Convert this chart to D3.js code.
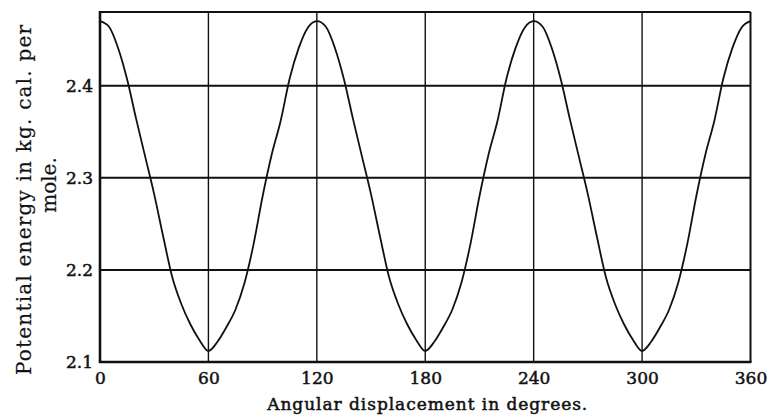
<!DOCTYPE html>
<html>
<head>
<script src="https://d3js.org/d3.v7.min.js"></script>
<title>Potential energy vs angular displacement</title>
<style>
  body { margin: 0; background: #fff; }
</style>
</head>
<body>
<div id="chart"></div>
<script>
// values
var angles = [0, 5, 10, 15, 20, 25, 30, 35, 40, 45, 50, 55, 60, 65, 70, 75, 80, 85, 90, 95, 100, 105, 110, 115, 120,
              125, 130, 135, 140, 145, 150, 155, 160, 165, 170, 175, 180, 185, 190, 195, 200, 205, 210, 215, 220, 225, 230, 235, 240,
              245, 250, 255, 260, 265, 270, 275, 280, 285, 290, 295, 300, 305, 310, 315, 320, 325, 330, 335, 340, 345, 350, 355, 360];
var energy = [2.470, 2.464, 2.441, 2.407, 2.364, 2.323, 2.282, 2.236, 2.192, 2.163, 2.141, 2.124, 2.112,
              2.122, 2.138, 2.157, 2.186, 2.228, 2.280, 2.325, 2.362, 2.408, 2.441, 2.463, 2.470,
              2.464, 2.441, 2.407, 2.364, 2.323, 2.282, 2.236, 2.192, 2.163, 2.141, 2.124, 2.112,
              2.122, 2.138, 2.157, 2.186, 2.228, 2.280, 2.325, 2.362, 2.408, 2.441, 2.463, 2.470,
              2.464, 2.441, 2.407, 2.364, 2.323, 2.282, 2.236, 2.192, 2.163, 2.141, 2.124, 2.112,
              2.122, 2.138, 2.157, 2.186, 2.228, 2.280, 2.325, 2.362, 2.408, 2.441, 2.463, 2.470];
var xTicks = [0, 60, 120, 180, 240, 300, 360];
var yTicks = [2.1, 2.2, 2.3, 2.4];
var yGrid = [2.2, 2.3, 2.4];
var xLabel = "Angular displacement in degrees.";
var yLabel = ["Potential energy in kg. cal. per", "mole."];

(function() {

  var width = 769, height = 418;
  var plotLeft = 100, plotRight = 750.5, plotTop = 12, plotBottom = 362;
  var ink = "#111";
  var serif = "'DejaVu Serif', 'Liberation Serif', serif";

  var svg = d3.select("#chart").append("svg")
      .attr("width", width).attr("height", height);

  var x = d3.scaleLinear().domain([0, 360]).range([plotLeft, plotRight]);
  var y = d3.scaleLinear().domain([2.1, 2.48]).range([plotBottom, plotTop]);

  // grid
  svg.selectAll(".vgrid").data(xTicks.slice(1, -1)).enter().append("line")
      .attr("x1", function(d) { return x(d); }).attr("x2", function(d) { return x(d); })
      .attr("y1", plotTop).attr("y2", plotBottom)
      .attr("stroke", ink).attr("stroke-width", 1.4);

  svg.selectAll(".hgrid").data(yGrid).enter().append("line")
      .attr("x1", plotLeft).attr("x2", plotRight)
      .attr("y1", function(d) { return y(d); }).attr("y2", function(d) { return y(d); })
      .attr("stroke", ink).attr("stroke-width", 2);

  // frame
  svg.append("line").attr("x1", plotLeft).attr("x2", plotRight).attr("y1", plotTop).attr("y2", plotTop)
      .attr("stroke", ink).attr("stroke-width", 2);
  svg.append("line").attr("x1", plotRight).attr("x2", plotRight).attr("y1", plotTop).attr("y2", plotBottom)
      .attr("stroke", ink).attr("stroke-width", 2);
  svg.append("line").attr("x1", plotLeft).attr("x2", plotLeft).attr("y1", plotTop - 1).attr("y2", plotBottom + 1)
      .attr("stroke", ink).attr("stroke-width", 2.6);
  svg.append("line").attr("x1", plotLeft - 1).attr("x2", plotRight + 1).attr("y1", plotBottom).attr("y2", plotBottom)
      .attr("stroke", ink).attr("stroke-width", 2.6);

  // curve
  var pts = angles.map(function(a, i) { return [a, energy[i]]; });
  var line = d3.line()
      .x(function(d) { return x(d[0]); })
      .y(function(d) { return y(d[1]); })
      .curve(d3.curveMonotoneX);

  svg.append("path").datum(pts)
      .attr("d", line)
      .attr("fill", "none").attr("stroke", ink).attr("stroke-width", 1.8);

  // axes (labels only, the lines are drawn above)
  var xAxis = svg.append("g").attr("transform", "translate(0," + plotBottom + ")")
      .call(d3.axisBottom(x).tickValues(xTicks).tickSize(0).tickPadding(10).tickFormat(d3.format("d")));
  var yAxis = svg.append("g").attr("transform", "translate(" + plotLeft + ",0)")
      .call(d3.axisLeft(y).tickValues(yTicks).tickSize(0).tickPadding(7).tickFormat(d3.format(".1f")));

  [xAxis, yAxis].forEach(function(g) {
    g.select(".domain").remove();
    g.selectAll("text").attr("font-family", serif).attr("font-size", 17)
     .attr("fill", ink).attr("stroke", ink).attr("stroke-width", 0.5);
  });

  // titles
  svg.append("text")
      .attr("x", x(180) + 2).attr("y", 410)
      .attr("text-anchor", "middle")
      .attr("font-family", serif).attr("font-size", 17)
      .attr("textLength", 320).attr("lengthAdjust", "spacing")
      .attr("fill", ink).attr("stroke", ink).attr("stroke-width", 0.5)
      .text(xLabel);

  svg.append("text")
      .attr("transform", "translate(31,200) rotate(-90)")
      .attr("text-anchor", "middle")
      .attr("font-family", serif).attr("font-size", 20)
      .attr("textLength", 350).attr("lengthAdjust", "spacing")
      .attr("fill", ink).attr("stroke", ink).attr("stroke-width", 0.2)
      .text(yLabel[0]);

  svg.append("text")
      .attr("transform", "translate(56,185) rotate(-90)")
      .attr("text-anchor", "middle")
      .attr("font-family", serif).attr("font-size", 20)
      .attr("fill", ink).attr("stroke", ink).attr("stroke-width", 0.2)
      .text(yLabel[1]);

})();
</script>
</body>
</html>
